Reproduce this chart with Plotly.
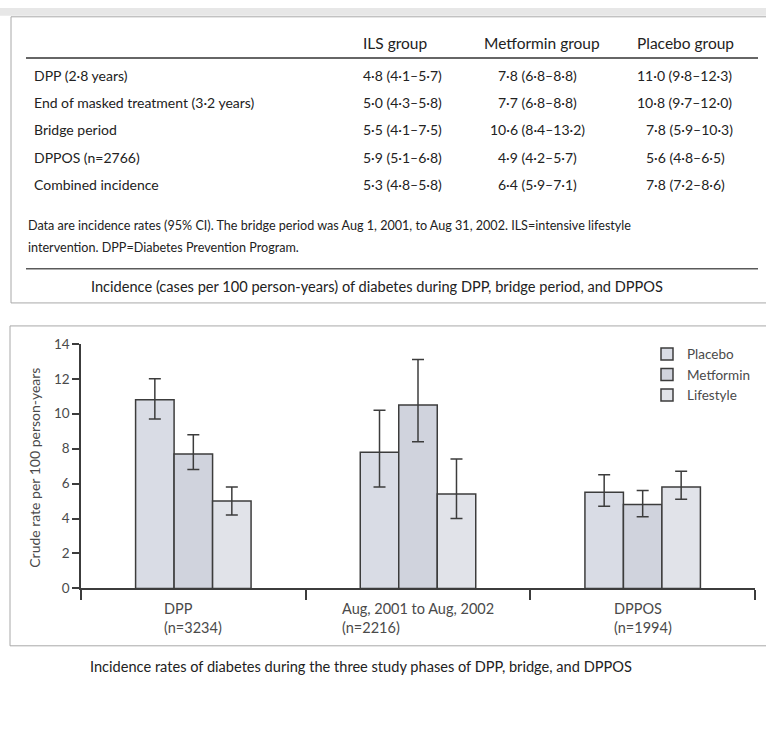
import plotly.graph_objects as go

W, H = 766, 735


def px(x):
    return x / W


def py(y):
    return 1 - y / H


# ---------------- chart data ----------------
phase_labels = ["DPP<br>(n=3234)", "Aug, 2001 to Aug, 2002<br>(n=2216)", "DPPOS<br>(n=1994)"]
group_names = ["Placebo", "Metformin", "Lifestyle"]

placebo = [10.8, 7.8, 5.5]
placebo_hi = [12.0, 10.2, 6.5]
placebo_lo = [9.7, 5.8, 4.7]

metformin = [7.7, 10.5, 4.8]
metformin_hi = [8.8, 13.1, 5.6]
metformin_lo = [6.8, 8.4, 4.1]

lifestyle = [5.0, 5.4, 5.8]
lifestyle_hi = [5.8, 7.4, 6.7]
lifestyle_lo = [4.2, 4.0, 5.1]

y_ticks = [0, 2, 4, 6, 8, 10, 12, 14]

# ---------------- table data ----------------
table_header = ["ILS group", "Metformin group", "Placebo group"]
table_rows = ["DPP (2·8 years)", "End of masked treatment (3·2 years)", "Bridge period",
              "DPPOS (n=2766)", "Combined incidence"]
ils_col = ["4·8 (4·1–5·7)", "5·0 (4·3–5·8)", "5·5 (4·1–7·5)", "5·9 (5·1–6·8)", "5·3 (4·8–5·8)"]
met_col = ["7·8 (6·8–8·8)", "7·7 (6·8–8·8)", "10·6 (8·4–13·2)", "4·9 (4·2–5·7)", "6·4 (5·9–7·1)"]
pla_col = ["11·0 (9·8–12·3)", "10·8 (9·7–12·0)", "7·8 (5·9–10·3)", "5·6 (4·8–6·5)", "7·8 (7·2–8·6)"]

table_note = ["Data are incidence rates (95% CI). The bridge period was Aug 1, 2001, to Aug 31, 2002. ILS=intensive lifestyle",
              "intervention. DPP=Diabetes Prevention Program."]
table_caption = "Incidence (cases per 100 person-years) of diabetes during DPP, bridge period, and DPPOS"
chart_caption = "Incidence rates of diabetes during the three study phases of DPP, bridge, and DPPOS"
y_title = "Crude rate per 100 person-years"

FONT = "Lato"
TXT = "#222222"
AX = "#3c3c3c"
LBL = "#4a4a4a"

series = [
    (group_names[0], placebo, placebo_hi, placebo_lo, "#d9dce5"),
    (group_names[1], metformin, metformin_hi, metformin_lo, "#d0d3dd"),
    (group_names[2], lifestyle, lifestyle_hi, lifestyle_lo, "#e1e3e9"),
]

xs = list(range(len(phase_labels)))
fig = go.Figure()
for name, vals, hi, lo, col in series:
    fig.add_trace(go.Bar(
        x=xs, y=vals, name=name,
        marker=dict(color=col, line=dict(color=AX, width=1.5)),
        error_y=dict(type="data", symmetric=False,
                     array=[h - v for h, v in zip(hi, vals)],
                     arrayminus=[v - l for v, l in zip(vals, lo)],
                     color=AX, thickness=1.5, width=6),
    ))

fig.update_layout(
    width=W, height=H,
    margin=dict(l=0, r=0, t=0, b=0),
    paper_bgcolor="white", plot_bgcolor="rgba(0,0,0,0)",
    barmode="group", bargap=0.486, bargroupgap=0,
    font=dict(family=FONT, color=TXT),
    showlegend=True,
    legend=dict(x=px(647), y=py(338), xanchor="left", yanchor="top",
                bgcolor="rgba(0,0,0,0)", font=dict(family=FONT, size=13.5, color=LBL),
                traceorder="normal", tracegroupgap=0, itemclick=False),
    xaxis=dict(domain=[px(81), px(755)], range=[-0.5, len(phase_labels) - 0.5],
               showline=True, linecolor=AX, linewidth=1.5,
               tickmode="array", tickvals=[i - 0.5 for i in range(len(phase_labels) + 1)],
               ticks="outside", ticklen=10, tickwidth=1.5, tickcolor=AX,
               showticklabels=False, showgrid=False, zeroline=False, fixedrange=True),
    yaxis=dict(domain=[py(593.3), py(343.3)], range=[0, 14],
               tickmode="array", tickvals=y_ticks,
               showline=True, linecolor=AX, linewidth=1.5,
               ticks="outside", ticklen=7, tickwidth=1.5, tickcolor=AX,
               tickfont=dict(family=FONT, size=13.5, color=LBL),
               showgrid=False, zeroline=False, fixedrange=True),
)

shapes = [
    # grey scan strip at the top
    dict(type="rect", xref="paper", yref="paper", x0=0, x1=1, y0=py(8), y1=1,
         fillcolor="#e7e7e7", line=dict(width=0), layer="below"),
    # table box
    dict(type="rect", xref="paper", yref="paper", x0=px(11), x1=px(775), y0=py(301.5), y1=py(9),
         fillcolor="rgba(0,0,0,0)", line=dict(color="#a8a8a8", width=1)),
    # header rule
    dict(type="line", xref="paper", yref="paper", x0=px(26), x1=px(758), y0=py(51), y1=py(51),
         line=dict(color="#333333", width=1.5)),
    # rule above table caption
    dict(type="line", xref="paper", yref="paper", x0=px(26), x1=px(758), y0=py(266.5), y1=py(266.5),
         line=dict(color="#5a5a5a", width=1.5)),
    # chart box
    dict(type="rect", xref="paper", yref="paper", x0=px(10), x1=px(775), y0=py(652), y1=py(325),
         fillcolor="rgba(0,0,0,0)", line=dict(color="#a8a8a8", width=1)),
]

ann = []


def text(x, y, s, size, xanchor="left", color=TXT):
    ann.append(dict(x=px(x), y=py(y), xref="paper", yref="paper", text=s, showarrow=False,
                    xanchor=xanchor, yanchor="middle",
                    font=dict(family=FONT, size=size, color=color)))


# table header
header_x = [361, 482, 635]
for hx, h in zip(header_x, table_header):
    text(hx, 36, h, 15.5)

row_y = [69, 96.8, 124.5, 152.6, 180.6]
for ry, lab, a, b, c in zip(row_y, table_rows, ils_col, met_col, pla_col):
    text(32, ry, lab, 14)
    text(361, ry, a, 14)
    text(537, ry, b, 14, xanchor="center")
    pla_x = 635 if len(c.split("·")[0]) > 1 else 643.5
    text(pla_x, ry, c, 14)

text(26, 222.3, table_note[0], 12.6)
text(26, 245, table_note[1], 12.6)
text(377, 285, table_caption, 14.6, xanchor="center")

# chart category labels (left-aligned block, centred under each group)
for i, lab in enumerate(phase_labels):
    ann.append(dict(x=i, y=py(623.5), xref="x", yref="paper", text=lab, showarrow=False,
                    xanchor="center", yanchor="middle", align="left",
                    font=dict(family=FONT, size=14.5, color=LBL)))

# y axis title
ann.append(dict(x=px(35), y=py(470), xref="paper", yref="paper", text=y_title, showarrow=False,
                textangle=-90, xanchor="center", yanchor="middle",
                font=dict(family=FONT, size=14, color=LBL)))

text(361, 672.7, chart_caption, 14.6, xanchor="center")

fig.update_layout(shapes=shapes, annotations=ann)
fig.write_html("out.html")
